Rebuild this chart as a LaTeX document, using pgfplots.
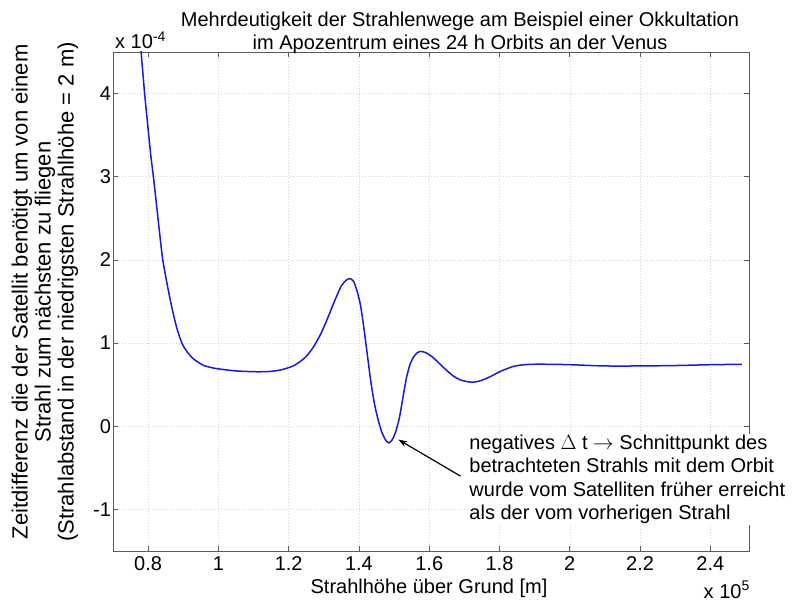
\documentclass[border=0pt]{standalone}
\usepackage{fontspec}
\setmainfont{Liberation Sans}
\usepackage{pgfplots}
\pgfplotsset{compat=1.18}
\usetikzlibrary{arrows.meta}
\newcommand\ff{\fontsize{20bp}{23.3bp}\selectfont}
\newcommand\fy{\fontsize{22bp}{23bp}\selectfont}
\definecolor{curve}{RGB}{25,25,215}
\definecolor{gridc}{RGB}{210,210,210}
\definecolor{axc}{RGB}{90,90,90}
\begin{document}
\begin{tikzpicture}
\path[use as bounding box] (-113bp,-50bp) rectangle (681bp,551bp);
\begin{axis}[
  scale only axis, width=636bp, height=499bp,
  at={(0,0)}, anchor=south west,
  xmin=0.7, xmax=2.51, ymin=-1.5, ymax=4.5,
  xtick={0.8,1,1.2,1.4,1.6,1.8,2,2.2,2.4},
  xticklabels={0.8,1,1.2,1.4,1.6,1.8,2,2.2,2.4},
  ytick={-1,0,1,2,3,4},
  yticklabels={-1,0,1,2,3,4},
  scaled ticks=false,
  tick align=inside, major tick length=5bp,
  xtick pos=both, ytick pos=both,
  tick style={axc, line width=0.6bp},
  axis line style={axc, line width=0.6bp},
  grid=major,
  major grid style={gridc, line width=0.5bp, dash pattern=on 1bp off 2bp},
  ticklabel style={font=\ff, text=black},
  xticklabel style={yshift=-4.5bp, inner sep=1bp},
  yticklabel style={xshift=1.5bp},
  clip mode=individual,
]
\addplot[curve, line width=1.5bp, smooth, tension=0.4] coordinates {
(0.778,4.6) (0.785,4.25) (0.790,4.00) (0.800,3.57) (0.808,3.24) (0.815,3.00)
(0.825,2.62) (0.840,2.05) (0.850,1.80) (0.860,1.58) (0.870,1.38) (0.881,1.19)
(0.896,1.00) (0.910,0.90) (0.929,0.81) (0.956,0.735) (0.980,0.705) (1.000,0.69)
(1.050,0.665) (1.110,0.655) (1.150,0.66) (1.180,0.68) (1.210,0.72) (1.230,0.77)
(1.250,0.84) (1.270,0.95) (1.290,1.10) (1.310,1.29) (1.330,1.50) (1.350,1.69)
(1.365,1.76) (1.375,1.775) (1.385,1.74) (1.395,1.62) (1.405,1.44) (1.415,1.15)
(1.425,0.82) (1.435,0.50) (1.445,0.25) (1.455,0.07) (1.465,-0.07) (1.475,-0.16)
(1.485,-0.20) (1.495,-0.16) (1.505,-0.06) (1.515,0.10) (1.525,0.34) (1.535,0.58)
(1.545,0.74) (1.555,0.83) (1.565,0.88) (1.575,0.90) (1.590,0.885) (1.610,0.83)
(1.630,0.75) (1.650,0.67) (1.670,0.60) (1.690,0.555) (1.710,0.535) (1.725,0.53)
(1.740,0.54) (1.760,0.57) (1.780,0.61) (1.800,0.655) (1.820,0.69) (1.840,0.72)
(1.860,0.735) (1.890,0.745) (1.950,0.745) (2.000,0.74) (2.100,0.725) (2.200,0.725)
(2.300,0.73) (2.400,0.74) (2.490,0.745)
};
\coordinate (T) at (axis cs:1.711,-0.64);
\coordinate (A1) at (axis cs:1.689,-0.60);
\coordinate (A2) at (axis cs:1.512,-0.16);
\end{axis}
\draw[black, line width=1.2bp, -{Stealth[length=9bp,width=6bp]}] (A1) -- (A2);
\node[anchor=west, fill=white, inner sep=1bp, align=left, font=\ff] at (T)
 {negatives $\Delta$ t $\rightarrow$ Schnittpunkt des\\betrachteten Strahls mit dem Orbit\\wurde vom Satelliten früher erreicht\\als der vom vorherigen Strahl};
\node[font=\ff, anchor=base, inner sep=0] at (347bp,524bp) {Mehrdeutigkeit der Strahlenwege am Beispiel einer Okkultation};
\node[font=\ff, anchor=base, inner sep=0] at (347bp,501bp) {im Apozentrum eines 24 h Orbits an der Venus};
\node[font=\ff, anchor=base west, inner sep=0] at (2bp,502bp) {x 10\textsuperscript{-4}};
\node[font=\ff, anchor=base east, inner sep=0] at (637bp,-47bp) {x 10\textsuperscript{5}};
\node[font=\ff, anchor=base, inner sep=0] at (316bp,-42.5bp) {Strahlhöhe über Grund [m]};
\node[font=\fy, rotate=90, align=center] at (-68bp,259bp) {Zeitdifferenz die der Satellit benötigt um von einem\\Strahl zum nächsten zu fliegen\\(Strahlabstand in der niedrigsten Strahlhöhe = 2 m)};
\end{tikzpicture}
\end{document}
